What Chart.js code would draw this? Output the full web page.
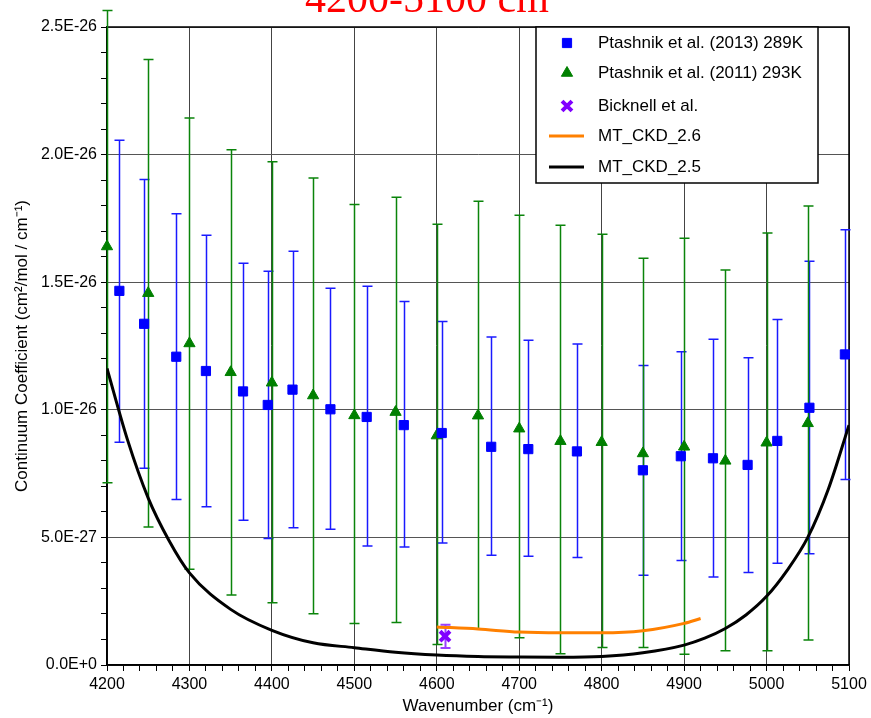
<!DOCTYPE html>
<html>
<head>
<meta charset="utf-8">
<style>
  html, body { margin: 0; padding: 0; background: #fff; }
  #wrap { width: 871px; height: 718px; }
</style>
<script src="https://cdn.jsdelivr.net/npm/chart.js@4.4.1/dist/chart.umd.min.js"></script>
</head>
<body>
<div id="wrap"><canvas id="chart" width="871" height="718"></canvas></div>
<script>
// -- DATA ----------------------------------------------
// all coefficients in units of 1e-27 (cm2/mol / cm-1)
const UNIT = 1e-27;

const xLabels = [4200, 4300, 4400, 4500, 4600, 4700, 4800, 4900, 5000, 5100];
const yLabels = [0, 5, 10, 15, 20, 25];

// Ptashnik et al. (2013) 289K
const p13Wn  = [4215, 4245, 4284, 4320, 4365, 4395, 4425, 4471, 4515, 4560, 4606, 4666, 4711, 4770, 4850, 4896, 4935, 4977, 5013, 5052, 5095];
const p13Val = [14.66, 13.37, 12.08, 11.52, 10.72, 10.19, 10.79, 10.02, 9.72, 9.40, 9.09, 8.55, 8.46, 8.37, 7.63, 8.18, 8.10, 7.84, 8.78, 10.08, 12.17];
const p13Lo  = [8.73, 7.71, 6.49, 6.20, 5.67, 4.96, 5.38, 5.32, 4.66, 4.62, 4.78, 4.30, 4.26, 4.21, 3.52, 4.09, 3.45, 3.62, 3.99, 4.36, 7.27];
const p13Hi  = [20.56, 19.02, 17.68, 16.84, 15.74, 15.43, 16.21, 14.76, 14.84, 14.24, 13.46, 12.85, 12.73, 12.58, 11.74, 12.27, 12.76, 12.04, 13.54, 15.82, 17.06];

// Ptashnik et al. (2011) 293K
const p11Wn  = [4200, 4250, 4300, 4350, 4400, 4450, 4500, 4550, 4600, 4650, 4700, 4750, 4800, 4850, 4900, 4950, 5000, 5050];
const p11Val = [16.40, 14.57, 12.60, 11.47, 11.06, 10.56, 9.78, 9.91, 8.99, 9.77, 9.26, 8.77, 8.73, 8.29, 8.55, 8.00, 8.71, 9.47];
const p11Lo  = [7.14, 5.41, 3.75, 2.74, 2.44, 2.01, 1.63, 1.67, 0.80, 1.40, 1.07, 0.44, 0.69, 0.69, 0.42, 0.56, 0.56, 0.98];
const p11Hi  = [25.65, 23.73, 21.43, 20.19, 19.72, 19.08, 18.04, 18.33, 17.27, 18.17, 17.62, 17.23, 16.88, 15.94, 16.72, 15.48, 16.93, 17.99];

// Bicknell et al.
const bickWn  = [4610];
const bickVal = [1.13];
const bickLo  = [0.67];
const bickHi  = [1.58];

// MT_CKD_2.6
const ckd26Wn  = [4600, 4650, 4700, 4750, 4800, 4850, 4900, 4920];
const ckd26Val = [1.49, 1.41, 1.29, 1.26, 1.26, 1.34, 1.63, 1.82];

// MT_CKD_2.5
const ckd25Wn  = [4200, 4225, 4250, 4275, 4300, 4350, 4400, 4450, 4500, 4550, 4600, 4650, 4700, 4750, 4800, 4850, 4900, 4925, 4950, 4975, 5000, 5025, 5050, 5075, 5100];
const ckd25Val = [11.62, 8.81, 6.54, 4.89, 3.61, 2.18, 1.36, 0.87, 0.68, 0.50, 0.39, 0.33, 0.31, 0.30, 0.33, 0.48, 0.78, 1.05, 1.43, 1.96, 2.69, 3.71, 5.00, 6.90, 9.40];

const FONT = "'Liberation Sans', Arial, Helvetica, sans-serif";

function points(xs, ys) {
  return xs.map((x, i) => ({ x, y: ys[i] }));
}

// -- PLUGINS -------------------------------------------
const frameAndErrors = {
  id: "frameAndErrors",
  beforeDatasetsDraw(chart) {
    const { ctx, chartArea: a, scales: { x, y } } = chart;
    ctx.save();
    ctx.strokeStyle = "#000";
    ctx.lineWidth = 1.5;
    ctx.strokeRect(a.left, a.top, a.right - a.left, a.bottom - a.top);
    chart.data.datasets.forEach((ds) => {
      if (!ds.errLo) return;
      ctx.strokeStyle = ds.errColor;
      ctx.lineWidth = ds.errWidth || 1.5;
      const cap = ds.capHalf || 5;
      ds.data.forEach((pt, j) => {
        const px = Math.round(x.getPixelForValue(pt.x)) + 0.5;
        const top = y.getPixelForValue(ds.errHi[j]);
        const bot = y.getPixelForValue(ds.errLo[j]);
        ctx.beginPath();
        ctx.moveTo(px, top);
        ctx.lineTo(px, bot);
        ctx.moveTo(px - cap, top);
        ctx.lineTo(px + cap, top);
        ctx.moveTo(px - cap, bot);
        ctx.lineTo(px + cap, bot);
        ctx.stroke();
      });
    });
    ctx.restore();
  }
};

const boxLegend = {
  id: "boxLegend",
  afterDraw(chart) {
    const { ctx } = chart;
    const left = 536, top = 27, right = 818, bottom = 183;
    const rows = [43, 73, 106, 136, 167];
    ctx.save();
    ctx.fillStyle = "#fff";
    ctx.fillRect(left, top, right - left, bottom - top);
    ctx.strokeStyle = "#000";
    ctx.lineWidth = 1.5;
    ctx.strokeRect(left, top, right - left, bottom - top);
    chart.data.datasets.forEach((ds, i) => {
      const cy = rows[i];
      if (ds.showLine) {
        ctx.strokeStyle = ds.borderColor;
        ctx.lineWidth = ds.borderWidth;
        ctx.beginPath();
        ctx.moveTo(549, cy);
        ctx.lineTo(584, cy);
        ctx.stroke();
      } else {
        ctx.fillStyle = ds.backgroundColor;
        ctx.strokeStyle = ds.borderColor;
        ctx.lineWidth = ds.borderWidth || 1;
        Chart.helpers.drawPoint(ctx, {
          pointStyle: ds.pointStyle,
          radius: ds.pointRadius,
          borderWidth: ds.borderWidth || 1,
          rotation: 0
        }, 567, cy);
      }
      ctx.fillStyle = "#000";
      ctx.font = "17px " + FONT;
      ctx.textBaseline = "middle";
      ctx.textAlign = "left";
      ctx.fillText(ds.label, 598, cy);
    });
    ctx.restore();
  }
};

const cutTitle = {
  id: "cutTitle",
  afterDraw(chart) {
    const { ctx } = chart;
    ctx.save();
    ctx.fillStyle = "#ff0000";
    ctx.textBaseline = "alphabetic";
    ctx.textAlign = "left";
    ctx.font = "42px 'Liberation Serif', 'Times New Roman', serif";
    const main = "4200-5100 cm";
    ctx.fillText(main, 305, 12);
    const w = ctx.measureText(main).width;
    ctx.font = "26px 'Liberation Serif', 'Times New Roman', serif";
    ctx.fillText("-1", 305 + w + 2, -6);
    ctx.restore();
  }
};

// -- RENDER --------------------------------------------
const ctx = document.getElementById("chart");

new Chart(ctx, {
  type: "scatter",
  data: {
    datasets: [
      {
        label: "Ptashnik et al. (2013) 289K",
        data: points(p13Wn, p13Val),
        errLo: p13Lo,
        errHi: p13Hi,
        errColor: "#1a1aff",
        pointStyle: "rect",
        pointRadius: 6.5,
        backgroundColor: "#0000ff",
        borderColor: "#0000ff",
        borderWidth: 1,
        clip: false
      },
      {
        label: "Ptashnik et al. (2011) 293K",
        data: points(p11Wn, p11Val),
        errLo: p11Lo,
        errHi: p11Hi,
        errColor: "#0a840a",
        pointStyle: "triangle",
        pointRadius: 6.5,
        backgroundColor: "#008000",
        borderColor: "#008000",
        borderWidth: 1,
        clip: false
      },
      {
        label: "Bicknell et al.",
        data: points(bickWn, bickVal),
        errLo: bickLo,
        errHi: bickHi,
        errColor: "#9a40ff",
        errWidth: 2,
        capHalf: 5,
        pointStyle: "crossRot",
        pointRadius: 7,
        backgroundColor: "#8000ff",
        borderColor: "#8000ff",
        borderWidth: 4,
        clip: false
      },
      {
        label: "MT_CKD_2.6",
        data: points(ckd26Wn, ckd26Val),
        showLine: true,
        borderColor: "#ff8000",
        backgroundColor: "#ff8000",
        borderWidth: 3,
        pointRadius: 0,
        cubicInterpolationMode: "monotone"
      },
      {
        label: "MT_CKD_2.5",
        data: points(ckd25Wn, ckd25Val),
        showLine: true,
        borderColor: "#000000",
        backgroundColor: "#000000",
        borderWidth: 3,
        pointRadius: 0,
        cubicInterpolationMode: "monotone"
      }
    ]
  },
  options: {
    responsive: false,
    animation: false,
    devicePixelRatio: 1,
    layout: { padding: { top: 27, right: 22, left: 0, bottom: 0 } },
    plugins: {
      legend: { display: false },
      tooltip: { enabled: false },
      title: { display: false }
    },
    scales: {
      x: {
        type: "linear",
        min: 4200,
        max: 5100,
        afterFit: (s) => { s.height = 53; },
        border: { color: "#000", width: 1.5 },
        grid: {
          color: (c) => (xLabels.includes(c.tick.value) ? "#444" : "rgba(0,0,0,0)"),
          tickColor: "#000",
          tickLength: 6,
          lineWidth: 1
        },
        ticks: {
          stepSize: 20,
          autoSkip: false,
          maxRotation: 0,
          padding: 4,
          color: "#000",
          font: { family: FONT, size: 16 },
          callback: (v) => (xLabels.includes(v) ? String(v) : "")
        },
        title: {
          display: true,
          text: "Wavenumber (cm\u207B\u00B9)",
          color: "#000",
          font: { family: FONT, size: 17 },
          padding: { top: 0, bottom: 1 }
        }
      },
      y: {
        type: "linear",
        min: 0,
        max: 25,
        afterFit: (s) => { s.width = 107; },
        border: { color: "#000", width: 1.5 },
        grid: {
          color: (c) => (yLabels.includes(Math.round(c.tick.value * 100) / 100) ? "#555" : "rgba(0,0,0,0)"),
          tickColor: "#000",
          tickLength: 6,
          lineWidth: 1
        },
        ticks: {
          stepSize: 1,
          autoSkip: false,
          padding: 4,
          color: "#000",
          font: { family: FONT, size: 16 },
          callback: (v) => {
            const r = Math.round(v * 100) / 100;
            return yLabels.includes(r) ? (r * UNIT).toExponential(1).toUpperCase() : "";
          }
        },
        title: {
          display: true,
          text: "Continuum Coefficient (cm\u00B2/mol / cm\u207B\u00B9)",
          color: "#000",
          font: { family: FONT, size: 17 },
          padding: { top: 12, bottom: 0 }
        }
      }
    }
  },
  plugins: [frameAndErrors, boxLegend, cutTitle]
});
</script>
</body>
</html>
